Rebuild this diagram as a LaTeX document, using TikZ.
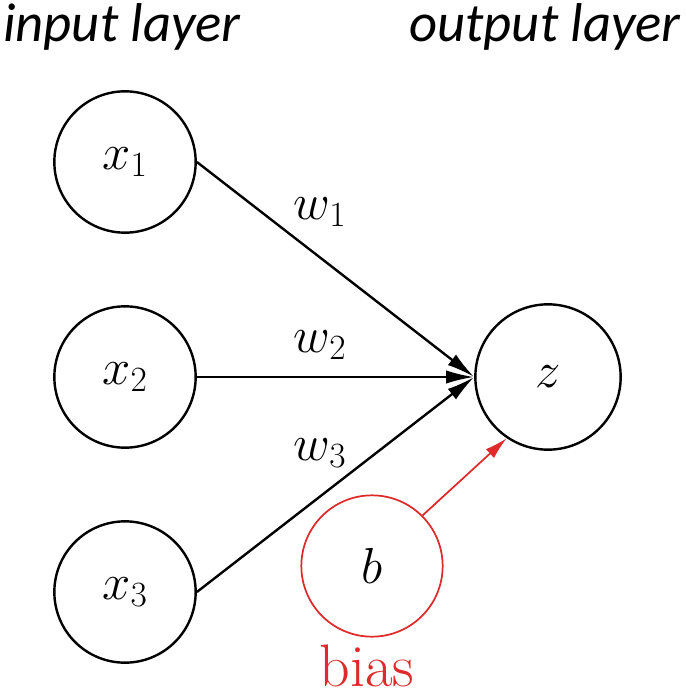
\RequirePackage{fix-cm}
\documentclass[tikz,border=0pt]{standalone}
\usepackage{fontspec}
\setsansfont{Carlito}
\usetikzlibrary{arrows.meta}
\definecolor{biasred}{RGB}{222,42,42}

\begin{document}
\begin{tikzpicture}[x=0.75pt,y=0.75pt,yscale=-1,xscale=1,
  neuron/.style={draw, circle, line width=1.8pt, minimum size=106pt, inner sep=0pt, font=\fontsize{38}{42}\selectfont},
  biasneuron/.style={neuron, draw=biasred, line width=1.3pt},
  wire/.style={line width=1.8pt, -{Latex[length=21pt,width=10pt]}},
  biaswire/.style={draw=biasred, line width=1.3pt, -{Latex[length=17pt,width=9pt,color=biasred]}},
  weight/.style={inner sep=0.75pt, font=\fontsize{38}{42}\selectfont},
  layer/.style={inner sep=0pt, font=\sffamily\itshape\fontsize{41}{45}\selectfont}]
\useasboundingbox (0,0) rectangle (685,698);

% Layer titles
\node[layer, anchor=north west] (intitle) at (3,3) {input layer};
\node[layer, anchor=north east] (outtitle) at (681,3) {output layer};

% Neurons
\node[neuron] (in1) at (125,162) {$x_1$};
\node[neuron] (in2) at (125,377) {$x_2$};
\node[neuron] (in3) at (125,592) {$x_3$};
\node[neuron, minimum size=109pt] (out) at (548,377) {$z$};
\node[biasneuron] (bias) at (372,566) {$b$};

% Connections
\draw[wire] (in1.east) -- (out.west);
\draw[wire] (in2.east) -- (out.west);
\draw[wire] (in3.east) -- (out.west);
\draw[biaswire] (bias.45) -- (out.236);

% Weights
\node[weight] (w1) at (320,212) {$w_1$};
\node[weight] (w2) at (320,345) {$w_2$};
\node[weight] (w3) at (320,453) {$w_3$};

% Bias label
\node[anchor=base, inner sep=0pt, text=biasred, font=\fontsize{45}{50}\selectfont] (biaslabel) at (367,686) {bias};

\end{tikzpicture}
\end{document}
